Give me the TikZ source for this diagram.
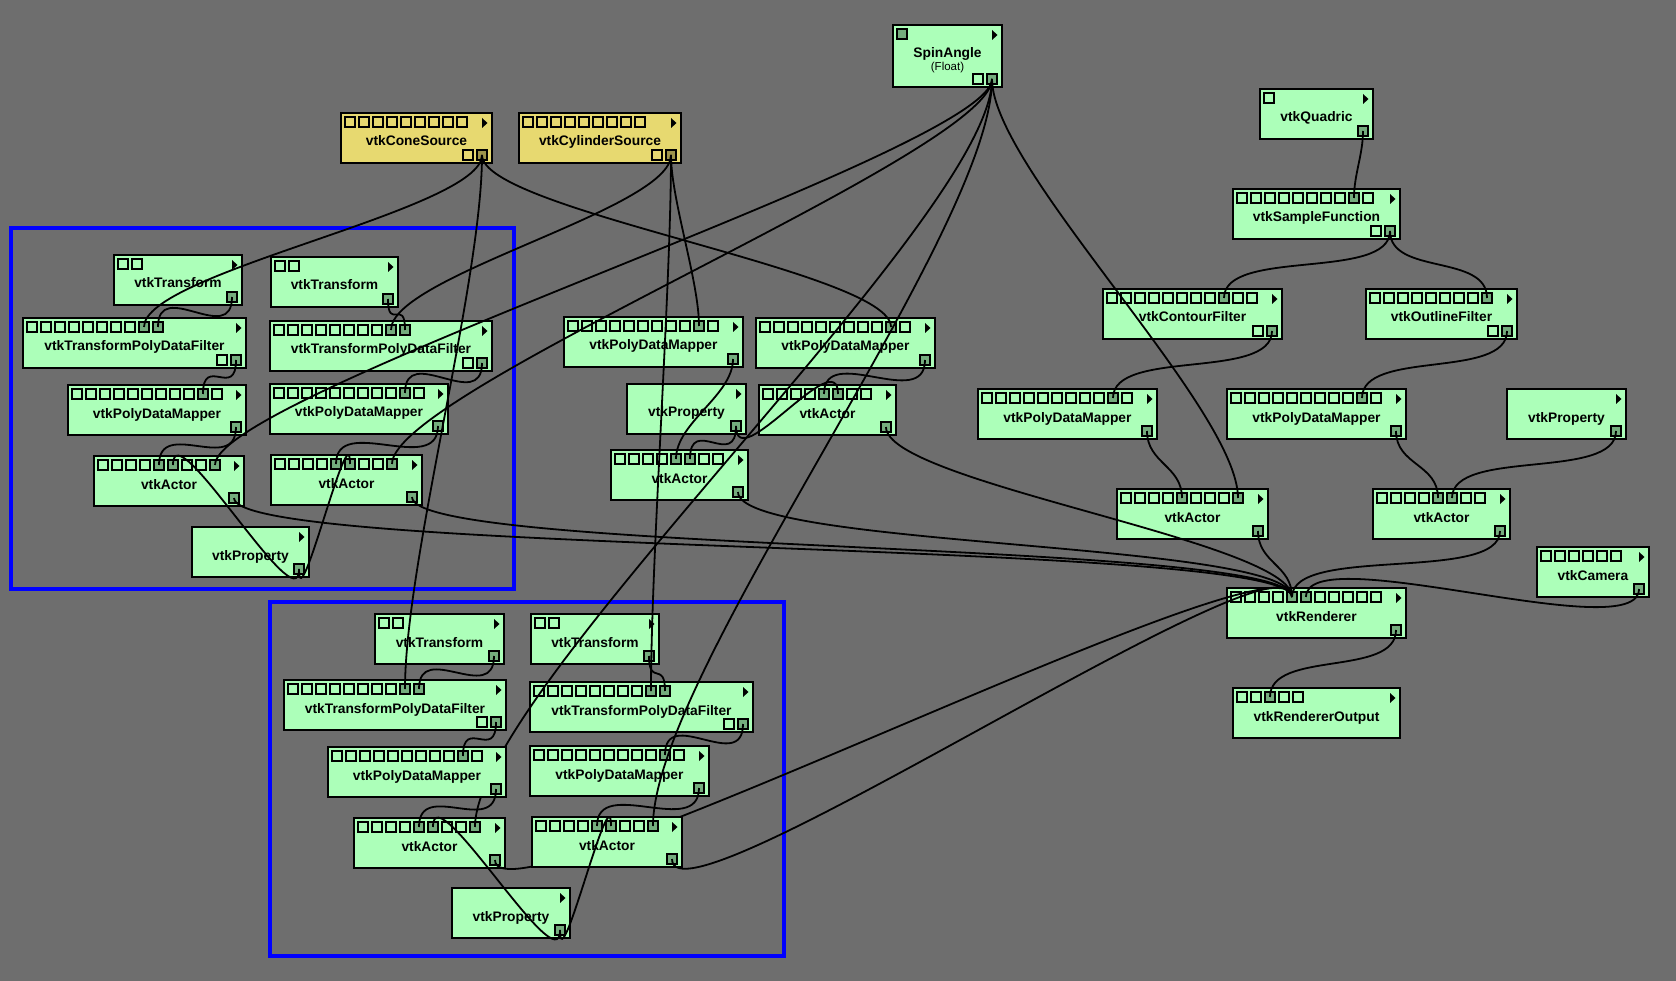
\documentclass[tikz,border=0pt]{standalone}
\usepackage{fontspec}
\setmainfont{Liberation Sans}
\usepackage{xcolor}
\usepackage{tikz}
\usetikzlibrary{backgrounds,calc,positioning}

\definecolor{canvasgray}{RGB}{110,110,110}
\definecolor{modgreen}{RGB}{172,255,185}
\definecolor{modyellow}{RGB}{231,217,112}

% module box: [style]{name}{x}{y}{width}{label}{inputs}{outputs}
\newcommand{\vtkmod}[8][mybox]{%
  \node (#2) [#1,minimum width=#5pt] at (#3,#4) {};
  \node (#2-t) [mylabel] at ($(#2.north)+(0,33)$) {#6};
  \fill ($(#2.north east)+(-10,5)$) -- ++(0,10) -- ++(5.5,-5) -- cycle;
  \ifnum#7>0 \foreach \k in {1,...,#7} {\node (#2-i\k) [myport] at ($(#2.north west)+({9+14*(\k-1)},9)$) {};}\fi
  \ifnum#8>0 \foreach \k in {1,...,#8} {\node (#2-o\k) [myport] at ($(#2.south east)+({-10-14*(#8-\k)},-8)$) {};}\fi
}

\newcommand{\markport}[1]{%
  \ifcsname mk@#1\endcsname\else
    \expandafter\gdef\csname mk@#1\endcsname{}%
    \fill[myfilled] (#1.south west) rectangle (#1.north east);
  \fi}

\newcommand{\wireline}[2]{%
  \draw[link] let \p1=(#1.center), \p2=(#2.center),
    \n1={max(abs(\x2-\x1),0.01)}, \n2={\y2-\y1},
    \n3={atan2(\n2,\n1)/90},
    \n4={abs(\n3)*ifthenelse(\n3<0,max(20,-(\n2)/4),max(20,(\n2)/2))+(1-abs(\n3))*60}
    in (\p1) .. controls ($(\p1)+(0pt,{-1pt*\n4})$) and ($(\p2)+(0pt,{1pt*\n4})$) .. (\p2);}

\newcommand{\wire}[2]{\wireline{#1}{#2}\markport{#1}\markport{#2}}

\begin{document}
\begin{tikzpicture}[x=1pt,y=-1pt,show background rectangle,
  background rectangle/.style={fill=canvasgray},inner frame sep=0pt]

\tikzstyle{mybox} = [draw=black, line width=2pt, fill=modgreen, rectangle, inner sep=0pt, outer sep=0pt, minimum height=50pt, anchor=north west]
\tikzstyle{srcbox} = [mybox, fill=modyellow]
\tikzstyle{myport} = [draw=black, line width=1.2pt, rectangle, minimum size=10pt, inner sep=0pt, outer sep=0pt]
\tikzstyle{myfilled} = [fill=black, fill opacity=0.32]
\tikzstyle{mylabel} = [inner sep=0pt, anchor=base, font=\bfseries\fontsize{13.8}{16}\selectfont]
\tikzstyle{mysub} = [inner sep=0pt, anchor=base, font=\fontsize{11.5}{13}\selectfont]
\tikzstyle{link} = [draw=black, line width=1.8pt]
\tikzstyle{grpframe} = [draw=blue, line width=3.5pt]

\useasboundingbox (0,0) rectangle (1676,981);

\draw[grpframe] (11,228) rectangle (514,589);
\draw[grpframe] (270,602) rectangle (784,956);

\vtkmod[srcbox]{cone}{341}{113}{151}{vtkConeSource}{9}{2}
\vtkmod[srcbox]{cyl}{519}{113}{162}{vtkCylinderSource}{9}{2}
\vtkmod[mybox,minimum height=62pt]{spin}{893}{25}{109}{SpinAngle}{1}{2}
\node (spin-f) [mysub] at ($(spin.north)+(0,46)$) {(Float)};

\vtkmod{quad}{1260}{89}{113}{vtkQuadric}{1}{1}
\vtkmod{samp}{1233}{189}{167}{vtkSampleFunction}{10}{2}
\vtkmod{cont}{1103}{289}{179}{vtkContourFilter}{11}{2}
\vtkmod{outl}{1366}{289}{151}{vtkOutlineFilter}{9}{2}
\vtkmod{mapc1}{978}{389}{179}{vtkPolyDataMapper}{11}{1}
\vtkmod{mapc2}{1227}{389}{179}{vtkPolyDataMapper}{11}{1}
\vtkmod{propc}{1507}{389}{119}{vtkProperty}{0}{1}
\vtkmod{actc1}{1117}{489}{151}{vtkActor}{9}{1}
\vtkmod{actc2}{1373}{489}{137}{vtkActor}{8}{1}
\vtkmod{cam}{1537}{547}{112}{vtkCamera}{6}{1}
\vtkmod{ren}{1227}{588}{179}{vtkRenderer}{11}{1}
\vtkmod{rout}{1233}{688}{167}{vtkRendererOutput}{5}{0}

\vtkmod{tra1}{114}{255}{128}{vtkTransform}{2}{1}
\vtkmod{tra2}{271}{257}{127}{vtkTransform}{2}{1}
\vtkmod{tpa1}{23}{318}{223}{vtkTransformPolyDataFilter}{10}{2}
\vtkmod{tpa2}{270}{321}{222}{vtkTransformPolyDataFilter}{10}{2}
\vtkmod{mapa1}{68}{385}{178}{vtkPolyDataMapper}{11}{1}
\vtkmod{mapa2}{270}{384}{178}{vtkPolyDataMapper}{11}{1}
\vtkmod{acta1}{94}{456}{150}{vtkActor}{9}{1}
\vtkmod{acta2}{271}{455}{151}{vtkActor}{9}{1}
\vtkmod{propa}{192}{527}{117}{vtkProperty}{0}{1}

\vtkmod{mapb1}{564}{317}{179}{vtkPolyDataMapper}{11}{1}
\vtkmod{mapb2}{756}{318}{179}{vtkPolyDataMapper}{11}{1}
\vtkmod{propb}{627}{384}{119}{vtkProperty}{0}{1}
\vtkmod{actb2}{759}{385}{137}{vtkActor}{8}{1}
\vtkmod{actb1}{611}{450}{137}{vtkActor}{8}{1}

\vtkmod{trd1}{375}{614}{129}{vtkTransform}{2}{1}
\vtkmod{trd2}{531}{614}{128}{vtkTransform}{2}{1}
\vtkmod{tpd1}{284}{680}{222}{vtkTransformPolyDataFilter}{10}{2}
\vtkmod{tpd2}{530}{682}{223}{vtkTransformPolyDataFilter}{10}{2}
\vtkmod{mapd2}{530}{746}{179}{vtkPolyDataMapper}{11}{1}
\vtkmod{actd1}{354}{818}{151}{vtkActor}{9}{1}
\vtkmod{propd}{452}{888}{118}{vtkProperty}{0}{1}

% these two pass under the boxes drawn next
\wire{spin-o2}{actd1-i9}
\wire{actd1-o1}{ren-i5}
\vtkmod{mapd1}{328}{747}{178}{vtkPolyDataMapper}{11}{1}
\vtkmod{actd2}{532}{817}{150}{vtkActor}{9}{1}

\wire{quad-o1}{samp-i9}
\wire{samp-o2}{cont-i9}
\wire{samp-o2}{outl-i9}
\wire{cont-o2}{mapc1-i10}
\wire{outl-o2}{mapc2-i10}
\wire{mapc1-o1}{actc1-i5}
\wire{mapc2-o1}{actc2-i5}
\wire{propc-o1}{actc2-i6}
\wire{spin-o2}{actc1-i9}
\wire{cam-o1}{ren-i6}
\wire{ren-o1}{rout-i3}

\wire{cone-o2}{tpa1-i9}
\wire{cone-o2}{tpd1-i9}
\wire{cone-o2}{mapb2-i10}
\wire{cyl-o2}{tpa2-i9}
\wire{cyl-o2}{tpd2-i9}
\wire{cyl-o2}{mapb1-i10}

\foreach \g in {a1,a2,d1,d2} {\wire{tr\g-o1}{tp\g-i10}}
\foreach \g in {a1,a2,d1,d2} {\wire{tp\g-o2}{map\g-i10}}
\foreach \g in {a1,a2,b1,b2,d1,d2} {\wire{map\g-o1}{act\g-i5}}
\foreach \g in {a1,a2} {\wire{propa-o1}{act\g-i6}}
\foreach \g in {b1,b2} {\wire{propb-o1}{act\g-i6}}
\foreach \g in {d1,d2} {\wire{propd-o1}{act\g-i6}}
\foreach \g in {a1,a2,d2} {\wire{spin-o2}{act\g-i9}}
\foreach \g in {a1,a2,b1,b2,c1,c2,d2} {\wire{act\g-o1}{ren-i5}}

\markport{spin-i1}

\end{tikzpicture}
\end{document}
